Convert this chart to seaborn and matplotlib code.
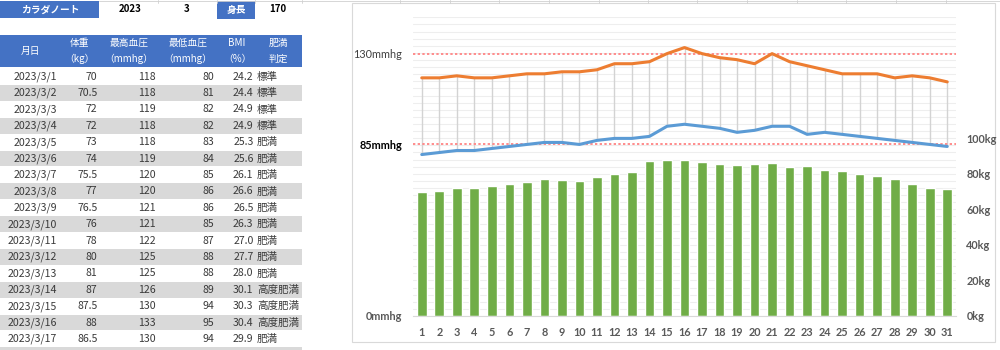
import numpy as np
import matplotlib
matplotlib.use("Agg")
import matplotlib.pyplot as plt
from matplotlib.patches import Rectangle
import seaborn as sns

# ---- sheet header values ----
title = "カラダノート"
year = 2023
month = 3
height_label = "身長"
height_cm = 170

# ---- daily records (March) ----
days = list(range(1, 32))
weight_kg = [70, 70.5, 72, 72, 73, 74, 75.5, 77, 76.5, 76, 78, 80, 81, 87, 87.5, 88,
             86.5, 85.5, 85, 85.5, 86, 84, 84.5, 82, 81.5, 80, 79, 77, 74, 72, 71.5]
systolic = [118, 118, 119, 118, 118, 119, 120, 120, 121, 121, 122, 125, 125, 126, 130, 133,
            130, 128, 127, 125, 130, 126, 124, 122, 120, 120, 120, 118, 119, 118, 116]
diastolic = [80, 81, 82, 82, 83, 84, 85, 86, 86, 85, 87, 88, 88, 89, 94, 95,
             94, 93, 91, 92, 94, 94, 90, 91, 90, 89, 88, 87, 86, 85, 84]
bmi = [24.2, 24.4, 24.9, 24.9, 25.3, 25.6, 26.1, 26.6, 26.5, 26.3, 27.0, 27.7, 28.0,
       30.1, 30.3, 30.4, 29.9]
judgement = ["標準", "標準", "標準", "標準", "肥満", "肥満", "肥満", "肥満", "肥満", "肥満",
             "肥満", "肥満", "肥満", "高度肥満", "高度肥満", "高度肥満", "肥満"]

header_top = ["月日", "体重", "最高血圧", "最低血圧", "BMI", "肥満"]
header_bottom = ["", "（kg）", "（mmhg）", "（mmhg）", "（%）", "判定"]

# reference levels for blood pressure
bp_levels = [130, 85]
bp_tick_values = [0, 85, 130]
bp_tick_labels = ["0mmhg", "85mmhg", "130mmhg"]
kg_tick_values = [0, 20, 40, 60, 80, 100]

BLUE_FILL = "#4472C4"
BAND = "#D9D9D9"
GREEN = "#70AD47"
ORANGE = "#ED7D31"
LBLUE = "#5B9BD5"
TXT = "#3A3A3A"

sns.set_style("white")
plt.rcParams["font.family"] = ["Noto Sans CJK JP", "DejaVu Sans"]

fig = plt.figure(figsize=(10, 3.5), dpi=100)

# ---------------- worksheet (pixel coordinates) ----------------
sheet = fig.add_axes([0, 0, 1, 1])
sheet.set_xlim(0, 1000)
sheet.set_ylim(350, 0)
sheet.axis("off")

# faint cell grid along the top edge
sheet.plot([99, 1000], [1.0, 1.0], color="#D0D0D0", lw=0.6)
for gx in [158, 217, 255, 302, 400, 450, 499, 549, 599, 648, 697, 747, 797, 846, 896, 946]:
    sheet.plot([gx, gx], [0, 3], color="#D0D0D0", lw=0.6)

# top info row
sheet.add_patch(Rectangle((0, 0.5), 99, 17.5, color=BLUE_FILL, lw=0))
sheet.text(50, 9.5, title, color="white", fontsize=7, fontweight="bold", ha="center", va="center")
sheet.text(130, 9.5, str(year), color="black", fontsize=7, fontweight="bold", ha="center", va="center")
sheet.text(187, 9.5, str(month), color="black", fontsize=7, fontweight="bold", ha="center", va="center")
sheet.add_patch(Rectangle((217, 0.5), 38, 18, color=BLUE_FILL, lw=0))
sheet.text(236, 9.5, height_label, color="white", fontsize=7, fontweight="bold", ha="center", va="center")
sheet.text(278, 9.5, str(height_cm), color="black", fontsize=7, fontweight="bold", ha="center", va="center")

# table header
sheet.add_patch(Rectangle((0, 35), 302, 32, color=BLUE_FILL, lw=0))
col_centers = [30, 79, 129, 188, 237, 278]
for cx, t1, t2 in zip(col_centers, header_top, header_bottom):
    if t2:
        sheet.text(cx, 43, t1, color="white", fontsize=7, ha="center", va="center")
        sheet.text(cx, 59, t2, color="white", fontsize=7, ha="center", va="center")
    else:
        sheet.text(cx, 51, t1, color="white", fontsize=7, ha="center", va="center")

# table rows
row0 = 76.7
pitch = 16.4
n_rows = len(bmi)
for i in range(n_rows + 1):
    if i % 2 == 1:
        sheet.add_patch(Rectangle((0, row0 + i * pitch - pitch / 2), 302, pitch - 0.6,
                                  color=BAND, lw=0))
fs = 7.6
for i in range(n_rows):
    y = row0 + i * pitch
    sheet.text(57, y, f"{year}/{month}/{days[i]}", color=TXT, fontsize=fs, ha="right", va="center")
    sheet.text(97.5, y, f"{weight_kg[i]:g}", color=TXT, fontsize=fs, ha="right", va="center")
    sheet.text(156, y, f"{systolic[i]}", color=TXT, fontsize=fs, ha="right", va="center")
    sheet.text(214, y, f"{diastolic[i]}", color=TXT, fontsize=fs, ha="right", va="center")
    sheet.text(253.5, y, f"{bmi[i]:.1f}", color=TXT, fontsize=fs, ha="right", va="center")
    sheet.text(257, y, judgement[i], color=TXT, fontsize=fs, ha="left", va="center")

# chart frame
sheet.add_patch(Rectangle((352, 3), 643, 339, facecolor="white", edgecolor="#D9D9D9", lw=0.8))

# ---------------- chart ----------------
ax = fig.add_axes([0.413, 34 / 350, 0.543, 298.7 / 350])
pos = np.arange(len(days))

# weight bars (right-hand kg scale)
sns.barplot(x=days, y=weight_kg, color=GREEN, saturation=1, width=0.55, ax=ax, zorder=2)
ax2 = ax.twinx()

ax.set_ylim(0, 168)
ax.set_xlim(-0.5, len(days) - 0.5)
ax.set_xlabel("")
ax.set_ylabel("")
ax.set_yticks(kg_tick_values, [f"{v}kg" for v in kg_tick_values])
ax.set_yticks(np.arange(0, 169, 4), minor=True)
ax.grid(which="both", axis="y", color="#EEEEEE", lw=0.8)
ax.grid(False, axis="x")
ax.set_axisbelow(True)
ax.set_xticks(pos, [str(d) for d in days])
ax.set_xticks(np.arange(-0.5, len(days), 1), minor=True)
ax.tick_params(axis="x", which="minor", length=4, width=0.8, color="#D9D9D9")
for s in ["top", "left", "right"]:
    ax.spines[s].set_visible(False)
ax.spines["bottom"].set_color("#D9D9D9")
ax.spines["bottom"].set_linewidth(0.8)

# blood pressure (left-hand mmhg scale)
ax2.set_ylim(0, 148)
ax2.vlines(pos, diastolic, systolic, color="#D3D3D3", lw=1.0, zorder=1)
for lv in bp_levels:
    ax2.axhline(lv, color="#FF8C8C", lw=1.4, ls=(0, (1.2, 1.2)), zorder=1)
sns.lineplot(x=pos, y=systolic, ax=ax2, color=ORANGE, lw=2.2, zorder=4)
sns.lineplot(x=pos, y=diastolic, ax=ax2, color=LBLUE, lw=2.2, zorder=4)
ax2.set_xlim(-0.5, len(days) - 0.5)
ax2.set_xlabel("")
ax2.set_ylabel("")
ax2.set_yticks(bp_tick_values, bp_tick_labels)
for s in ax2.spines.values():
    s.set_visible(False)

# axis sides: kg on the right, mmhg on the left
ax.yaxis.tick_right()
ax2.yaxis.tick_left()
ax.tick_params(axis="x", which="major", length=0, pad=8, labelsize=7.8,
               labelcolor="#595959", labelfontfamily="Lato")
ax.tick_params(axis="y", which="both", length=0)
ax.tick_params(axis="y", which="major", pad=7.5, labelsize=7.8, labelcolor="#595959",
               labelfontfamily="Lato")
ax2.tick_params(axis="y", length=0, pad=8, labelsize=7.8, labelfontfamily="Lato")

fig.canvas.draw()
for t in ax.get_xticklabels() + ax.get_yticklabels():
    t.set_fontweight("bold")
lbls = ax2.get_yticklabels()
lbls[0].set_color("#595959"); lbls[0].set_fontweight("bold")
lbls[1].set_color("black"); lbls[1].set_fontweight("bold")
lbls[2].set_color("#404040")

fig.savefig("out.png", dpi=100)
